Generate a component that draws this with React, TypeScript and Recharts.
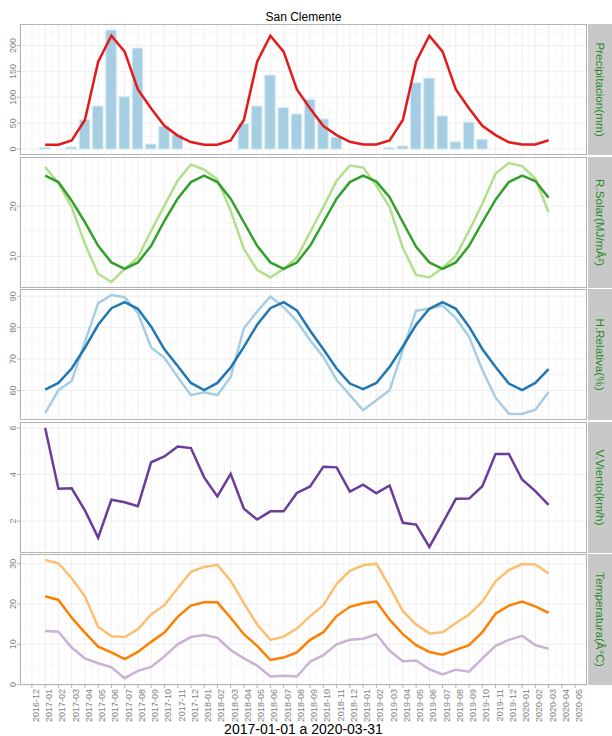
import React from 'react'
import { ComposedChart, Line, Bar, XAxis, YAxis, CartesianGrid } from 'recharts'

const tickLabels = [
  '2016-12',
  '2017-01', '2017-02', '2017-03', '2017-04', '2017-05', '2017-06',
  '2017-07', '2017-08', '2017-09', '2017-10', '2017-11', '2017-12',
  '2018-01', '2018-02', '2018-03', '2018-04', '2018-05', '2018-06',
  '2018-07', '2018-08', '2018-09', '2018-10', '2018-11', '2018-12',
  '2019-01', '2019-02', '2019-03', '2019-04', '2019-05', '2019-06',
  '2019-07', '2019-08', '2019-09', '2019-10', '2019-11', '2019-12',
  '2020-01', '2020-02', '2020-03', '2020-04', '2020-05',
]

// months with data: 2017-01 .. 2020-03
const months = tickLabels.slice(1, 40)

const precip = [
  3, 0, 4, 56.5, 83, 230, 101, 195, 9.7, 44, 27.6, 0,
  0, 0, 0, 49, 83, 143, 80, 67.6, 96, 58, 23, 0,
  0, 0, 3, 6, 128, 137, 64, 14, 52, 19, 0, 0,
  0, 0, 0,
]
const precipNormal = [
  8.5, 8.5, 16.8, 56, 168.5, 219, 188, 115, 78.5, 45, 26, 13.5,
  8.5, 8.5, 16.8, 56, 168.5, 219, 188, 115, 78.5, 44.5, 27, 14,
  9, 9, 16.8, 56, 168.5, 219, 188, 115, 78.5, 45, 27, 13,
  9, 9, 17,
]
const solar = [
  27.8, 24.6, 19.8, 12.5, 6.5, 4.9, 7.5, 9.8, 15.1, 20.1, 25.1, 28.3,
  27.3, 25.3, 19.1, 11.5, 7.3, 5.8, 7.5, 9.8, 14.8, 19.8, 25.1, 28.1,
  27.7, 24.1, 19.8, 11.7, 6.3, 5.8, 7.7, 10.1, 15.1, 20.5, 26.5, 28.6,
  28.0, 25.5, 18.8,
]
const solarNormal = [
  26.1, 24.8, 21.1, 16.8, 12.1, 8.8, 7.5, 8.8, 12.1, 17.1, 21.5, 24.8,
  26.1, 24.8, 21.5, 16.8, 12.1, 8.8, 7.5, 8.8, 12.1, 16.8, 21.5, 24.8,
  26.1, 24.9, 21.8, 16.8, 11.9, 8.8, 7.5, 8.8, 12.1, 16.8, 21.3, 24.8,
  26.1, 25.0, 21.7,
]
const humidity = [
  52.8, 60.1, 63, 75.5, 87.8, 90.4, 89.7, 84.6, 73.7, 70.4, 64.3, 58.5,
  59.4, 58.5, 64.3, 79.8, 85.1, 89.9, 86.5, 82, 76, 70.7, 63.3, 58.5,
  53.7, 56.9, 60.1, 72.9, 85.4, 86, 87, 83, 77.1, 66.5, 57.7, 52.6,
  52.5, 53.9, 59.5,
]
const humidityNormal = [
  60.3, 62.4, 67, 73.6, 80.9, 86.2, 88.1, 86, 80.3, 73.1, 67.8, 62.4,
  60.1, 62.4, 67.3, 73.9, 80.9, 86.2, 88.1, 85.5, 79, 73.1, 67, 62.2,
  60.4, 62.4, 67.5, 74, 80.9, 86, 88.1, 86, 80.3, 73.2, 67.5, 62.2,
  60.1, 62.4, 66.8,
]
const wind = [
  6.0, 3.39, 3.41, 2.46, 1.29, 2.92, 2.81, 2.64, 4.53, 4.78, 5.21, 5.14,
  3.88, 3.06, 4.03, 2.53, 2.07, 2.42, 2.42, 3.21, 3.49, 4.34, 4.31, 3.27,
  3.57, 3.2, 3.53, 1.93, 1.85, 0.89, 1.91, 2.96, 2.97, 3.5, 4.89, 4.89,
  3.79, 3.29, 2.7,
]
const tempMax = [
  30.9, 30.1, 26.4, 21.9, 14.3, 12.0, 11.8, 13.7, 17.4, 19.7, 23.9, 28.0,
  29.2, 29.7, 25.8, 20.2, 14.9, 11.1, 11.9, 13.9, 17.0, 19.7, 25.0, 28.2,
  29.6, 30.0, 24.3, 18.2, 14.9, 12.7, 13.0, 15.3, 17.4, 20.6, 25.6, 28.4,
  29.9, 29.8, 27.6,
]
const tempMean = [
  21.9, 21.0, 16.6, 12.9, 9.4, 8.0, 6.3, 8.1, 10.6, 12.9, 16.8, 19.6,
  20.4, 20.4, 16.6, 12.5, 9.6, 6.1, 6.7, 8.0, 11.1, 13.0, 17.0, 19.3,
  20.2, 20.6, 16.1, 12.5, 9.8, 8.1, 7.4, 8.6, 9.8, 13.0, 17.6, 19.6,
  20.6, 19.4, 17.8,
]
const tempMin = [
  13.3, 13.1, 9.2, 6.5, 5.3, 4.3, 1.6, 3.4, 4.4, 7.0, 10.0, 11.8,
  12.3, 11.6, 8.6, 6.5, 4.7, 2.0, 2.2, 2.0, 5.7, 7.3, 10.0, 11.1,
  11.4, 12.5, 8.4, 5.8, 6.0, 3.8, 2.5, 3.7, 3.2, 6.5, 9.6, 11.1,
  12.1, 9.8, 8.9,
]

const rows = months.map((m, k) => ({
  x: tickLabels.indexOf(m),
  precip: precip[k],
  precipNormal: precipNormal[k],
  solar: solar[k],
  solarNormal: solarNormal[k],
  humidity: humidity[k],
  humidityNormal: humidityNormal[k],
  wind: wind[k],
  tempMax: tempMax[k],
  tempMean: tempMean[k],
  tempMin: tempMin[k],
}))

const FONT = '"Liberation Sans", Arial, sans-serif'
const PLOT_LEFT = 20
const PLOT_RIGHT = 587
const PANEL_H = 131
const X_AXIS_H = 48
const tops = [24, 157, 289, 422, 554]
const xDomain = [-0.9, 41.9]
const xTicks = tickLabels.map((_, i) => i)
const xMinor = [-0.5, ...xTicks.map((i) => i + 0.5)]

interface LineSpec {
  key: string
  color: string
}

interface PanelSpec {
  strip: string
  domain: number[]
  ticks: number[]
  minor: number[]
  bar?: string
  lines: LineSpec[]
}

const panels: PanelSpec[] = [
  {
    strip: 'Precipitacion(mm)',
    domain: [-11.5, 241.5],
    ticks: [0, 50, 100, 150, 200],
    minor: [25, 75, 125, 175, 225],
    bar: 'precip',
    lines: [{ key: 'precipNormal', color: '#e31a1c' }],
  },
  {
    strip: 'R.Solar(MJ/mÂ²)',
    domain: [3.7, 29.8],
    ticks: [10, 20],
    minor: [5, 15, 25],
    lines: [
      { key: 'solar', color: '#b2df8a' },
      { key: 'solarNormal', color: '#33a02c' },
    ],
  },
  {
    strip: 'H.Relativa(%)',
    domain: [50.6, 92.3],
    ticks: [60, 70, 80, 90],
    minor: [55, 65, 75, 85],
    lines: [
      { key: 'humidity', color: '#a6cee3' },
      { key: 'humidityNormal', color: '#1f78b4' },
    ],
  },
  {
    strip: 'V.Viento(km/h)',
    domain: [0.63, 6.26],
    ticks: [2, 4, 6],
    minor: [1, 3, 5],
    lines: [{ key: 'wind', color: '#6a3d9a' }],
  },
  {
    strip: 'Temperatura(Â°C)',
    domain: [-0.1, 32.4],
    ticks: [0, 10, 20, 30],
    minor: [5, 15, 25],
    lines: [
      { key: 'tempMax', color: '#fdbf6f' },
      { key: 'tempMean', color: '#ff7f00' },
      { key: 'tempMin', color: '#cab2d6' },
    ],
  },
]

const YTick = (props: any) => {
  const { y, payload } = props
  return (
    <text
      transform={`translate(16, ${y}) rotate(-90)`}
      textAnchor="middle"
      fontSize={9}
      fontFamily={FONT}
      fill="#7f7f7f"
    >
      {payload.value}
    </text>
  )
}

const XTick = (props: any) => {
  const { x, payload } = props
  return (
    <text
      transform={`translate(${x + 7}, ${PANEL_H + 4}) rotate(-90)`}
      textAnchor="end"
      fontSize={9}
      fontFamily={FONT}
      fill="#7f7f7f"
    >
      {tickLabels[payload.value]}
    </text>
  )
}

function Panel({ spec, top, last }: { spec: PanelSpec; top: number; last: boolean }) {
  const height = last ? PANEL_H + X_AXIS_H : PANEL_H
  return (
    <div style={{ position: 'absolute', left: 0, top }}>
      <ComposedChart
        width={PLOT_RIGHT}
        height={height}
        data={rows}
        margin={{ top: 0, right: 0, bottom: 0, left: 0 }}
      >
        <XAxis
          dataKey="x"
          type="number"
          domain={xDomain}
          ticks={xTicks}
          interval={0}
          allowDataOverflow
          hide={!last}
          height={X_AXIS_H}
          axisLine={false}
          tickSize={3}
          tickLine={{ stroke: '#b3b3b3' }}
          tick={(p: any) => <XTick {...p} />}
        />
        <XAxis
          xAxisId="minor"
          dataKey="x"
          type="number"
          domain={xDomain}
          ticks={xMinor}
          interval={0}
          allowDataOverflow
          hide
        />
        <YAxis
          type="number"
          domain={spec.domain}
          ticks={spec.ticks}
          interval={0}
          allowDataOverflow
          width={PLOT_LEFT}
          axisLine={false}
          tickSize={3}
          tickLine={{ stroke: '#b3b3b3' }}
          tick={(p: any) => <YTick {...p} />}
        />
        <YAxis
          yAxisId="minor"
          type="number"
          domain={spec.domain}
          ticks={spec.minor}
          interval={0}
          allowDataOverflow
          hide
        />
        <CartesianGrid xAxisId="minor" yAxisId="minor" stroke="#f4f4f4" strokeWidth={0.6} />
        <CartesianGrid stroke="#ebebeb" strokeWidth={0.8} />
        {spec.bar && (
          <Bar
            dataKey={spec.bar}
            fill="#a6cee3"
            stroke="#d6e9f3"
            strokeWidth={1}
            barSize={10.5}
            isAnimationActive={false}
          />
        )}
        {spec.lines.map((l) => (
          <Line
            key={l.key}
            type="linear"
            dataKey={l.key}
            stroke={l.color}
            strokeWidth={2.5}
            dot={false}
            isAnimationActive={false}
          />
        ))}
      </ComposedChart>
    </div>
  )
}

export default function App() {
  return (
    <div
      style={{
        position: 'absolute',
        left: 0,
        top: 0,
        width: 612,
        height: 736,
        background: '#fff',
        overflow: 'hidden',
      }}
    >
      {panels.map((p, i) => (
        <Panel key={p.strip} spec={p} top={tops[i]} last={i === panels.length - 1} />
      ))}
      <svg
        width={612}
        height={736}
        style={{ position: 'absolute', left: 0, top: 0, pointerEvents: 'none' }}
      >
        <text x={303.5} y={21} textAnchor="middle" fontSize={12} fontFamily={FONT} fill="#000">
          San Clemente
        </text>
        {panels.map((p, i) => (
          <g key={p.strip}>
            <rect
              x={PLOT_LEFT + 0.5}
              y={tops[i] + 0.5}
              width={PLOT_RIGHT - PLOT_LEFT - 1}
              height={PANEL_H - 1}
              fill="none"
              stroke="#b3b3b3"
              strokeWidth={1}
            />
            <rect x={588} y={tops[i]} width={24} height={PANEL_H} fill="#c8c8c8" />
            <text
              transform={`translate(595.5, ${tops[i] + PANEL_H / 2}) rotate(90)`}
              textAnchor="middle"
              fontSize={11.7}
              fontFamily={FONT}
              fill="#228b22"
            >
              {p.strip}
            </text>
          </g>
        ))}
        <text x={303.5} y={734} textAnchor="middle" fontSize={14} fontFamily={FONT} fill="#000">
          2017-01-01 a 2020-03-31
        </text>
      </svg>
    </div>
  )
}
